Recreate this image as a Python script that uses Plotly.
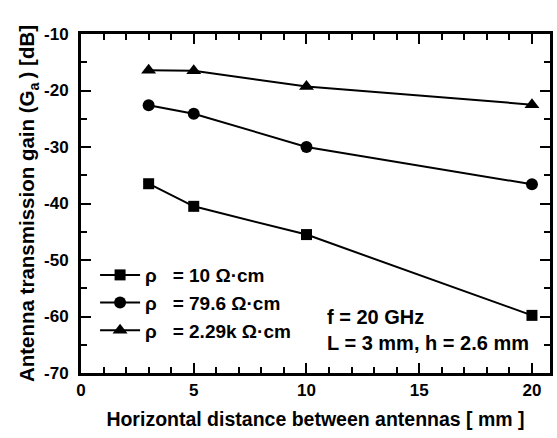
import plotly.graph_objects as go

x_mm = [3, 5, 10, 20]
g_10 = [-36.5, -40.5, -45.5, -59.8]
g_79 = [-22.6, -24.1, -30.0, -36.6]
g_229k = [-16.4, -16.5, -19.3, -22.5]
names = ["ρ\u00a0\u00a0\u00a0= 10 Ω·cm", "ρ\u00a0\u00a0\u00a0= 79.6 Ω·cm", "ρ\u00a0\u00a0\u00a0= 2.29k Ω·cm"]
symbols = ["square", "circle", "triangle-up"]
sizes = [11, 12, 13]
x_ticks = [0, 5, 10, 15, 20]
x_ticklabels = ["0", "5", "10", "15", "20"]
y_ticks = [-70, -60, -50, -40, -30, -20, -10]
y_ticklabels = ["-70", "-60", "-50", "-40", "-30", "-20", "-10"]

FONT = "Liberation Sans, Arial, sans-serif"
fig = go.Figure()
for ys, nm, sym, sz in zip([g_10, g_79, g_229k], names, symbols, sizes):
    fig.add_trace(go.Scatter(x=x_mm, y=ys, name=nm, mode="lines+markers",
                             line=dict(color="black", width=2),
                             marker=dict(symbol=sym, size=sz, color="black")))

axis_common = dict(showline=True, linecolor="black", linewidth=3, mirror="allticks",
                   ticks="inside", tickcolor="black", tickwidth=2, ticklen=10,
                   showgrid=False, zeroline=False,
                   tickfont=dict(family=FONT, size=17, color="black", weight="bold"))
fig.update_xaxes(range=[0, 20.8], tickmode="array", tickvals=x_ticks, ticktext=x_ticklabels,
                 minor=dict(ticks="inside", dtick=1, tick0=0, ticklen=6, tickwidth=2, tickcolor="black"),
                 title=dict(text="<b>Horizontal distance between antennas [ mm ]</b>",
                            font=dict(family=FONT, size=19.5, color="black"), standoff=13),
                 **axis_common)
fig.update_yaxes(range=[-70, -10], tickmode="array", tickvals=y_ticks, ticktext=y_ticklabels,
                 ticklabelstandoff=6,
                 minor=dict(ticks="inside", dtick=5, tick0=-70, ticklen=6, tickwidth=2, tickcolor="black"),
                 title=dict(text="<b>Antenna transmission gain (G<sub>a</sub>\u2009) [dB]</b>",
                            font=dict(family=FONT, size=20.5, color="black"), standoff=4),
                 **axis_common)

fig.add_annotation(xref="paper", yref="paper", x=0.52, y=0.205, xanchor="left", yanchor="top",
                   align="left", showarrow=False,
                   text="<b>f = 20 GHz<br>L = 3 mm, h = 2.6 mm</b>",
                   font=dict(family=FONT, size=20, color="black"))

fig.update_layout(width=557, height=438, margin=dict(l=81, r=4, t=34, b=65),
                  plot_bgcolor="white", paper_bgcolor="white",
                  legend=dict(x=0.03, y=0.345, xanchor="left", yanchor="top",
                              bgcolor="rgba(0,0,0,0)", itemwidth=40,
                              font=dict(family=FONT, size=19, color="black", weight="bold")))
fig.write_html("out.html")
